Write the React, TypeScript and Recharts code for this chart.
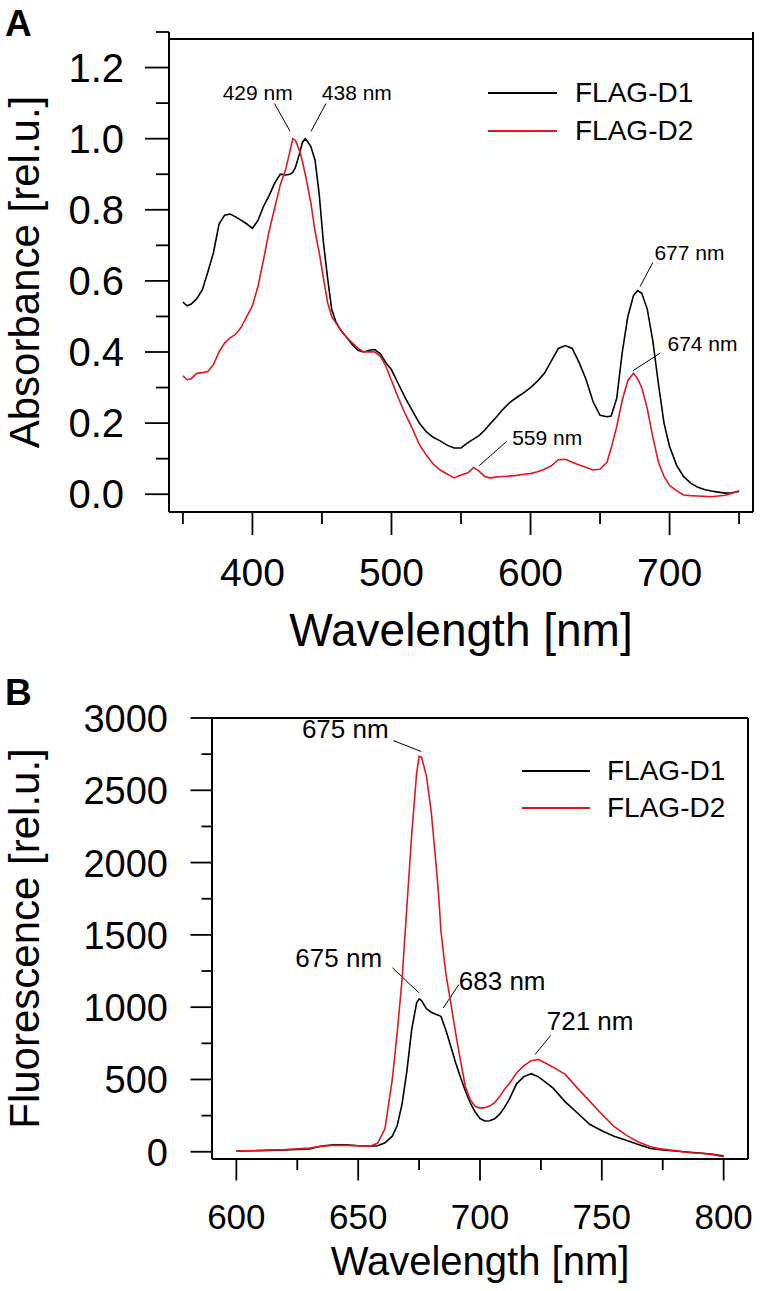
import React from 'react';
import { LineChart, Line, XAxis, YAxis, ReferenceLine, ReferenceDot, Legend } from 'recharts';

const FONT = '"Liberation Sans", Arial, Helvetica, sans-serif';
const RED = '#e0181e';

// ---------- Panel A: absorbance ----------
const absWavelength = [350, 353, 356, 360, 364, 368, 372, 376, 380, 384, 388, 392, 396, 400, 404, 408, 412, 416, 420, 424, 427, 429, 431, 434, 436, 438, 440, 442, 445, 448, 451, 454, 457, 460, 464, 468, 472, 476, 480, 484, 488, 492, 496, 500, 505, 510, 515, 520, 525, 530, 535, 540, 545, 550, 555, 559, 563, 567, 571, 575, 580, 585, 590, 595, 600, 605, 610, 615, 620, 625, 630, 635, 640, 645, 650, 655, 658, 662, 666, 670, 674, 677, 680, 684, 688, 692, 696, 700, 705, 710, 715, 720, 725, 730, 735, 740, 745, 750];
const absFlagD1 = [0.54, 0.53, 0.535, 0.55, 0.575, 0.626, 0.68, 0.76, 0.785, 0.788, 0.78, 0.77, 0.76, 0.748, 0.77, 0.81, 0.84, 0.875, 0.9, 0.898, 0.9, 0.905, 0.92, 0.96, 0.99, 1.0, 0.99, 0.978, 0.94, 0.845, 0.71, 0.61, 0.52, 0.485, 0.458, 0.44, 0.42, 0.405, 0.4, 0.405, 0.407, 0.395, 0.37, 0.35, 0.31, 0.27, 0.235, 0.2, 0.176, 0.16, 0.15, 0.138, 0.13, 0.13, 0.145, 0.155, 0.165, 0.18, 0.198, 0.215, 0.238, 0.258, 0.272, 0.285, 0.3, 0.318, 0.34, 0.375, 0.41, 0.418, 0.41, 0.37, 0.322, 0.26, 0.222, 0.218, 0.22, 0.27, 0.4, 0.5, 0.558, 0.573, 0.565, 0.52, 0.43, 0.31, 0.2, 0.134, 0.082, 0.05, 0.032, 0.02, 0.013, 0.009, 0.006, 0.003, 0.004, 0.008];
const absFlagD2 = [0.333, 0.322, 0.325, 0.34, 0.342, 0.345, 0.365, 0.4, 0.425, 0.44, 0.45, 0.47, 0.5, 0.53, 0.585, 0.66, 0.74, 0.805, 0.87, 0.915, 0.965, 1.0, 0.995, 0.965, 0.935, 0.9, 0.86, 0.82, 0.74, 0.68, 0.61, 0.54, 0.5, 0.482, 0.46, 0.44, 0.425, 0.41, 0.4, 0.401, 0.4, 0.388, 0.36, 0.32, 0.27, 0.225, 0.185, 0.14, 0.11, 0.085, 0.068, 0.057, 0.046, 0.054, 0.06, 0.075, 0.065, 0.05, 0.046, 0.048, 0.05, 0.051, 0.053, 0.056, 0.058, 0.063, 0.07, 0.08, 0.097, 0.098, 0.09, 0.082, 0.075, 0.068, 0.07, 0.09, 0.13, 0.19, 0.265, 0.32, 0.34, 0.325, 0.3, 0.24, 0.16, 0.09, 0.05, 0.025, 0.01, -0.002, -0.004, -0.005, -0.006, -0.007, -0.005, -0.003, 0.003, 0.01];
const absXTicks = [350, 400, 450, 500, 550, 600, 650, 700, 750];
const absYTicks = [0, 0.1, 0.2, 0.3, 0.4, 0.5, 0.6, 0.7, 0.8, 0.9, 1.0, 1.1, 1.2, 1.3];
const absNotes = [
  { text: '429 nm', x: 378.6, y: 1.108, from: [415.8, 1.099], to: [427.1, 1.021] },
  { text: '438 nm', x: 449.9, y: 1.108, from: [452.9, 1.099], to: [442.2, 1.021] },
  { text: '677 nm', x: 689.1, y: 0.659, from: [688.0, 0.652], to: [678.8, 0.584] },
  { text: '674 nm', x: 698.5, y: 0.402, from: [693.2, 0.397], to: [673.6, 0.347] },
  { text: '559 nm', x: 586.8, y: 0.139, from: [582.7, 0.148], to: [563.0, 0.08] },
];

// ---------- Panel B: fluorescence ----------
const fluWavelength = [600, 610, 620, 630, 635, 640, 645, 650, 655, 658, 661, 664, 666, 668, 670, 672, 674, 675, 676, 678, 680, 682, 683, 684, 686, 688, 690, 692, 694, 696, 698, 700, 702, 704, 706, 708, 710, 712, 715, 718, 721, 724, 727, 730, 735, 740, 745, 750, 755, 760, 765, 770, 775, 780, 785, 790, 795, 800];
const fluFlagD1 = [5, 8, 12, 20, 40, 48, 48, 42, 38, 42, 62, 108, 180, 330, 560, 850, 1030, 1057, 1045, 990, 965, 950, 945, 935, 840, 730, 615, 515, 420, 339, 275, 230, 213, 215, 228, 258, 305, 362, 470, 520, 540, 518, 480, 440, 345, 268, 190, 145, 108, 80, 50, 23, 12, 5, -2, -8, -15, -30];
const fluFlagD2 = [5, 10, 15, 25, 38, 45, 44, 42, 39, 60, 160, 500, 820, 1190, 1700, 2200, 2620, 2735, 2730, 2600, 2350, 1980, 1780, 1520, 1230, 1030, 820, 630, 450, 360, 315, 302, 305, 316, 340, 380, 430, 470, 545, 595, 630, 638, 612, 585, 535, 440, 350, 260, 175, 115, 68, 35, 18, 8, -5, -10, -18, -35];
const fluXTicks = [600, 625, 650, 675, 700, 725, 750, 775, 800];
const fluYTicks = [0, 250, 500, 750, 1000, 1250, 1500, 1750, 2000, 2250, 2500, 2750, 3000];
const fluNotes = [
  { text: '675 nm', x: 626.9, y: 2865, from: [664.4, 2844], to: [675.9, 2768] },
  { text: '675 nm', x: 624.2, y: 1279, from: [664.1, 1272], to: [675.0, 1099] },
  { text: '683 nm', x: 691.3, y: 1122, from: [691.3, 1156], to: [684.9, 995] },
  { text: '721 nm', x: 727.4, y: 845, from: [729.0, 804], to: [722.6, 673] },
];

const seriesNames = ['FLAG-D1', 'FLAG-D2'];

const absData = absWavelength.map((wl, i) => ({ wl, d1: absFlagD1[i], d2: absFlagD2[i] }));
const fluData = fluWavelength.map((wl, i) => ({ wl, d1: fluFlagD1[i], d2: fluFlagD2[i] }));

type TickOpts = { isMajor: (v: number) => boolean; major: number; minor: number; dy: number; fontSize: number; fmt: (v: number) => string };

const makeXTick = (o: TickOpts) => (props: any) => {
  const { x, y, payload } = props;
  const v = payload.value;
  const maj = o.isMajor(v);
  return (
    <g>
      <line x1={x} x2={x} y1={y} y2={y + (maj ? o.major : o.minor)} stroke="#000" strokeWidth={1.8} />
      {maj && (
        <text x={x} y={y + o.dy} textAnchor="middle" fontSize={o.fontSize} fontFamily={FONT} fill="#000">
          {o.fmt(v)}
        </text>
      )}
    </g>
  );
};

const makeYTick = (o: TickOpts & { dx: number }) => (props: any) => {
  const { x, y, payload } = props;
  const v = payload.value;
  const maj = o.isMajor(v);
  return (
    <g>
      <line x1={x - (maj ? o.major : o.minor)} x2={x} y1={y} y2={y} stroke="#000" strokeWidth={1.8} />
      {maj && (
        <text x={x - o.dx} y={y + o.dy} textAnchor="end" fontSize={o.fontSize} fontFamily={FONT} fill="#000">
          {o.fmt(v)}
        </text>
      )}
    </g>
  );
};

const noteShape = (text: string, fontSize: number) => (p: any) => (
  <text x={p.cx} y={p.cy} fontSize={fontSize} fontFamily={FONT} fill="#000" textAnchor="start">
    {text}
  </text>
);

const legendContent = (lineW: number, gap: number, rowH: number, fontSize: number) => (props: any) => (
  <div style={{ fontFamily: FONT }}>
    {(props.payload || []).map((item: any) => (
      <div key={item.value} style={{ display: 'flex', alignItems: 'center', height: rowH }}>
        <svg width={lineW} height={4} style={{ display: 'block' }}>
          <line x1={0} x2={lineW} y1={2} y2={2} stroke={item.color} strokeWidth={1.8} />
        </svg>
        <span style={{ marginLeft: gap, fontSize, lineHeight: 1, color: '#000', whiteSpace: 'nowrap' }}>{item.value}</span>
      </div>
    ))}
  </div>
);

const xTitle = (text: string, dy: number, fontSize: number) => (p: any) => {
  const vb = p.viewBox;
  return (
    <text x={vb.x + vb.width / 2} y={vb.y + dy} textAnchor="middle" fontSize={fontSize} fontFamily={FONT} fill="#000">
      {text}
    </text>
  );
};

const yTitle = (text: string, baseX: number, fontSize: number) => (p: any) => {
  const vb = p.viewBox;
  const cy = vb.y + vb.height / 2;
  return (
    <text transform="rotate(-90)" x={-cy} y={baseX} textAnchor="middle" fontSize={fontSize} fontFamily={FONT} fill="#000">
      {text}
    </text>
  );
};

const PanelLetter = ({ letter, top }: { letter: string; top: number }) => (
  <svg width={60} height={50} style={{ position: 'absolute', left: 0, top }}>
    <text x={5} y={36} fontSize={37} fontWeight="bold" fontFamily={FONT} fill="#000">
      {letter}
    </text>
  </svg>
);

export default function App() {
  return (
    <div style={{ position: 'absolute', left: 0, top: 0, width: 760, height: 1291, background: '#fff', overflow: 'hidden' }}>
      <PanelLetter letter="A" top={0} />
      <PanelLetter letter="B" top={669} />

      <div style={{ position: 'absolute', left: 0, top: 0 }}>
        <LineChart width={760} height={660} data={absData} margin={{ top: 32, right: 7, left: 69, bottom: 48 }}>
          <XAxis
            dataKey="wl"
            type="number"
            domain={[340, 760]}
            ticks={absXTicks}
            interval={0}
            height={100}
            tickSize={0}
            tickMargin={0}
            tickLine={false}
            axisLine={{ stroke: '#000', strokeWidth: 2 }}
            tick={makeXTick({ isMajor: (v) => v % 100 === 0, major: 23, minor: 12, dy: 74, fontSize: 39, fmt: (v) => String(v) })}
            label={{ content: xTitle('Wavelength [nm]', 134, 46) }}
          />
          <YAxis
            type="number"
            domain={[-0.05, 1.3]}
            ticks={absYTicks}
            interval={0}
            width={100}
            tickSize={0}
            tickMargin={0}
            tickLine={false}
            axisLine={{ stroke: '#000', strokeWidth: 2 }}
            tick={makeYTick({ isMajor: (v) => Math.round(v * 10) % 2 === 0, major: 24, minor: 13, dx: 45, dy: 14, fontSize: 40, fmt: (v) => v.toFixed(1) })}
            label={{ content: yTitle('Absorbance [rel.u.]', 39, 42) }}
          />
          <ReferenceLine y={1.28} stroke="#000" strokeWidth={2} />
          <ReferenceLine x={760} stroke="#000" strokeWidth={2} />
          {absNotes.map((n, i) => (
            <ReferenceLine key={'al' + i} segment={[{ x: n.from[0], y: n.from[1] }, { x: n.to[0], y: n.to[1] }]} stroke="#000" strokeWidth={1} />
          ))}
          {absNotes.map((n, i) => (
            <ReferenceDot key={'at' + i} x={n.x} y={n.y} r={1} shape={noteShape(n.text, 21)} />
          ))}
          <Line dataKey="d1" name={seriesNames[0]} stroke="#000" strokeWidth={1.6} dot={false} isAnimationActive={false} type="linear" />
          <Line dataKey="d2" name={seriesNames[1]} stroke={RED} strokeWidth={1.6} dot={false} isAnimationActive={false} type="linear" />
          <Legend
            layout="horizontal"
            verticalAlign="middle"
            align="center"
            wrapperStyle={{ left: 488, top: 73.5, width: 270, height: 77 }}
            content={legendContent(69, 18, 38.5, 28)}
          />
        </LineChart>
      </div>

      <div style={{ position: 'absolute', left: 0, top: 660 }}>
        <LineChart width={760} height={631} data={fluData} margin={{ top: 58, right: 12, left: 112, bottom: 32 }}>
          <XAxis
            dataKey="wl"
            type="number"
            domain={[590, 810]}
            ticks={fluXTicks}
            interval={0}
            height={100}
            tickSize={0}
            tickMargin={0}
            tickLine={false}
            axisLine={{ stroke: '#000', strokeWidth: 2 }}
            tick={makeXTick({ isMajor: (v) => v % 50 === 0, major: 21.5, minor: 11, dy: 70, fontSize: 35, fmt: (v) => String(v) })}
            label={{ content: xTitle('Wavelength [nm]', 116, 40) }}
          />
          <YAxis
            type="number"
            domain={[-50, 3000]}
            ticks={fluYTicks}
            interval={0}
            width={100}
            tickSize={0}
            tickMargin={0}
            tickLine={false}
            axisLine={{ stroke: '#000', strokeWidth: 2 }}
            tick={makeYTick({ isMajor: (v) => v % 500 === 0, major: 21.5, minor: 10.5, dx: 44, dy: 14, fontSize: 38, fmt: (v) => String(v) })}
            label={{ content: yTitle('Fluorescence [rel.u.]', 39, 42) }}
          />
          <ReferenceLine y={3000} stroke="#000" strokeWidth={2} />
          <ReferenceLine x={810} stroke="#000" strokeWidth={2} />
          {fluNotes.map((n, i) => (
            <ReferenceLine key={'bl' + i} segment={[{ x: n.from[0], y: n.from[1] }, { x: n.to[0], y: n.to[1] }]} stroke="#000" strokeWidth={1} />
          ))}
          {fluNotes.map((n, i) => (
            <ReferenceDot key={'bt' + i} x={n.x} y={n.y} r={1} shape={noteShape(n.text, 26)} />
          ))}
          <Line dataKey="d1" name={seriesNames[0]} stroke="#000" strokeWidth={1.6} dot={false} isAnimationActive={false} type="linear" />
          <Line dataKey="d2" name={seriesNames[1]} stroke={RED} strokeWidth={1.6} dot={false} isAnimationActive={false} type="linear" />
          <Legend
            layout="horizontal"
            verticalAlign="middle"
            align="center"
            wrapperStyle={{ left: 522, top: 92.4, width: 236, height: 75 }}
            content={legendContent(68, 17, 37.3, 28)}
          />
        </LineChart>
      </div>
    </div>
  );
}
